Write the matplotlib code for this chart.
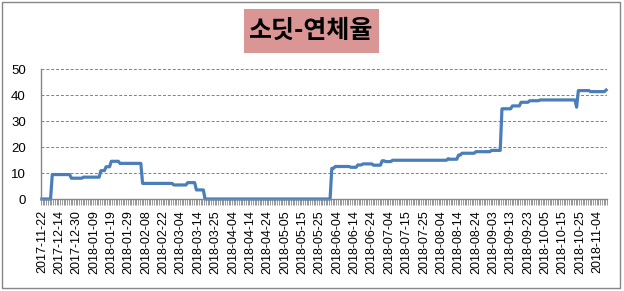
import numpy as np
import matplotlib
matplotlib.use("Agg")
import matplotlib.pyplot as plt
from matplotlib.patches import Rectangle
from matplotlib.ticker import FixedLocator

plt.rcParams['font.family'] = ['Liberation Sans', 'Noto Sans CJK KR', 'DejaVu Sans']

title = '소딧-연체율'

# x tick labels, one every 10 data points
tick_labels = ['2017-11-22', '2017-12-14', '2017-12-30', '2018-01-09', '2018-01-19',
               '2018-01-29', '2018-02-08', '2018-02-22', '2018-03-04', '2018-03-14',
               '2018-03-25', '2018-04-04', '2018-04-14', '2018-04-24', '2018-05-05',
               '2018-05-15', '2018-05-25', '2018-06-04', '2018-06-14', '2018-06-24',
               '2018-07-04', '2018-07-15', '2018-07-25', '2018-08-04', '2018-08-14',
               '2018-08-24', '2018-09-03', '2018-09-13', '2018-09-23', '2018-10-05',
               '2018-10-15', '2018-10-25', '2018-11-04']

step_values = [0, 9.4, 8.0, 8.4, 10.9, 12.4, 14.5, 13.7, 6.0, 5.4, 6.3, 3.5, 0,
               11.8, 12.5, 12.2, 13.1, 13.5, 13.0, 14.7, 14.4, 14.9, 15.5, 15.3,
               16.9, 17.6, 18.2, 18.7, 34.7, 35.8, 37.2, 37.8, 38.1, 35.3, 41.7,
               41.3, 41.9]
step_lengths = [6, 11, 7, 10, 3, 3, 5, 13, 18, 8, 5, 5, 73,
                2, 9, 4, 3, 6, 5, 2, 4, 32, 1, 5,
                2, 8, 9, 6, 6, 5, 5, 6, 21, 1, 7,
                9, 1]

values = np.repeat(step_values, step_lengths)
n = len(values)
x = np.arange(n)

W, H = 624, 291
fig = plt.figure(figsize=(W / 100, H / 100), dpi=100)
ax = fig.add_axes([41 / W, 1 - 199 / H, (607 - 41) / W, (199 - 69) / H])

ax.plot(x, values, color='#4a7ebb', lw=2.3, solid_joinstyle='round', clip_on=False)

ax.set_xlim(-0.5, n - 0.5)
ax.set_ylim(0, 50)
ax.set_yticks([0, 10, 20, 30, 40, 50])
ax.yaxis.grid(True, linestyle=(0, (3, 2)), color='#808080', lw=0.7)
ax.set_axisbelow(True)

ax.set_xticks(np.arange(0, n, 10)[:len(tick_labels)])
ax.set_xticklabels(tick_labels, rotation=90)
ax.xaxis.set_minor_locator(FixedLocator(np.arange(-0.5, n, 1)))
ax.tick_params(axis='x', which='major', length=0, pad=8, labelsize=9)
ax.tick_params(axis='x', which='minor', length=4, width=0.6, color='#868686', direction='out')
ax.tick_params(axis='y', length=0, pad=11, labelsize=9.5)

for s in ['top', 'right']:
    ax.spines[s].set_visible(False)
for s in ['left', 'bottom']:
    ax.spines[s].set_color('#868686')
    ax.spines[s].set_linewidth(1.0)

# title box
fig.patches.append(Rectangle((244 / W, 1 - 53 / H), 135 / W, 44 / H,
                             transform=fig.transFigure, facecolor='#d99694',
                             edgecolor='none'))
fig.text(311.5 / W, 1 - 31 / H, title, ha='center', va='center', fontsize=18,
         fontweight='bold', family=['Noto Sans CJK KR', 'DejaVu Sans'])

# outer chart border
fig.patches.append(Rectangle((2 / W, 1 - 288 / H), 618 / W, 286 / H,
                             transform=fig.transFigure, facecolor='none',
                             edgecolor='#868686', lw=1.0))

fig.savefig('out.png', dpi=100)
